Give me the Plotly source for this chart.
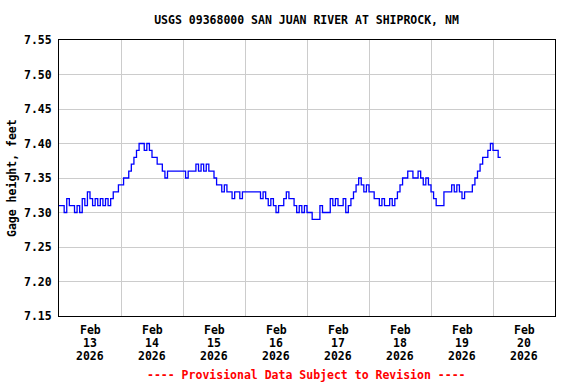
import pandas as pd
import plotly.graph_objects as go

# Gage height readings, hourly from 2026-02-13 00:00 (feet)
gage_height = [
    # Feb 13
    7.31, 7.31, 7.30, 7.32, 7.31, 7.31, 7.30, 7.31, 7.30, 7.32, 7.31, 7.33,
    7.32, 7.31, 7.32, 7.31, 7.32, 7.31, 7.32, 7.31, 7.32, 7.33, 7.33, 7.34,
    # Feb 14
    7.34, 7.35, 7.35, 7.36, 7.37, 7.38, 7.39, 7.40, 7.40, 7.39, 7.40, 7.39,
    7.38, 7.38, 7.37, 7.37, 7.36, 7.35, 7.36, 7.36, 7.36, 7.36, 7.36, 7.36,
    # Feb 15
    7.36, 7.35, 7.36, 7.36, 7.36, 7.37, 7.36, 7.37, 7.36, 7.37, 7.36, 7.36,
    7.35, 7.34, 7.34, 7.33, 7.34, 7.33, 7.33, 7.32, 7.33, 7.33, 7.32, 7.33,
    # Feb 16
    7.33, 7.33, 7.33, 7.33, 7.33, 7.33, 7.32, 7.33, 7.32, 7.31, 7.32, 7.31,
    7.30, 7.31, 7.31, 7.32, 7.33, 7.32, 7.32, 7.31, 7.30, 7.31, 7.30, 7.31,
    # Feb 17
    7.30, 7.30, 7.29, 7.29, 7.29, 7.31, 7.30, 7.30, 7.30, 7.32, 7.31, 7.32,
    7.31, 7.31, 7.32, 7.30, 7.31, 7.32, 7.33, 7.34, 7.35, 7.34, 7.33, 7.34,
    # Feb 18
    7.33, 7.33, 7.32, 7.32, 7.31, 7.32, 7.31, 7.31, 7.32, 7.31, 7.32, 7.33,
    7.34, 7.35, 7.35, 7.36, 7.36, 7.35, 7.35, 7.36, 7.35, 7.34, 7.35, 7.34,
    # Feb 19
    7.33, 7.32, 7.31, 7.31, 7.31, 7.33, 7.33, 7.33, 7.34, 7.33, 7.34, 7.33,
    7.32, 7.33, 7.33, 7.33, 7.34, 7.35, 7.36, 7.37, 7.38, 7.38, 7.39, 7.40,
    # Feb 20
    7.39, 7.39, 7.38, 7.38,
]

day_labels = ["13", "14", "15", "16", "17", "18", "19", "20"]
month_label = "Feb"
year_label = "2026"
y_ticks = [7.15, 7.20, 7.25, 7.30, 7.35, 7.40, 7.45, 7.50, 7.55]

title_text = "USGS 09368000 SAN JUAN RIVER AT SHIPROCK, NM"
y_title = "Gage height, feet"
footer_text = "---- Provisional Data Subject to Revision ----"

start = pd.Timestamp("2026-02-13 00:00")
times = [start + pd.Timedelta(hours=i) for i in range(len(gage_height))]

midnights = [start + pd.Timedelta(days=i) for i in range(len(day_labels) + 1)]
noons = [start + pd.Timedelta(days=i, hours=12) for i in range(len(day_labels))]

FONT = "DejaVu Sans Mono"
FS = 11.5
PLOT_L, PLOT_R, PLOT_T, PLOT_B = 59, 555, 40, 316
PW, PH = PLOT_R - PLOT_L, PLOT_B - PLOT_T


def py(ypix):
    return (PLOT_B - ypix) / PH


def px(xpix):
    return (xpix - PLOT_L) / PW


fig = go.Figure()
fig.add_trace(go.Scatter(
    x=times, y=gage_height, mode="lines",
    line=dict(color="#0000ff", width=1.3, shape="hv"),
    showlegend=False, hoverinfo="x+y",
))

fig.update_layout(
    width=576, height=384,
    margin=dict(l=PLOT_L, r=576 - PLOT_R, t=PLOT_T, b=384 - PLOT_B, autoexpand=False),
    paper_bgcolor="white", plot_bgcolor="white",
    font=dict(family=FONT, size=FS, color="black"),
    title=dict(
        text=f"<b>{title_text}</b>",
        x=306.5 / 576, xanchor="center",
        y=1 - 20 / 384, yanchor="middle",
        font=dict(family=FONT, size=FS, color="black"),
    ),
    xaxis=dict(
        range=[midnights[0], midnights[-1]],
        tickmode="array", tickvals=midnights, showticklabels=False,
        showgrid=True, gridcolor="#cccccc", gridwidth=1,
        ticks="", automargin=False,
        showline=True, linecolor="black", linewidth=1, mirror=True,
        zeroline=False,
    ),
    yaxis=dict(
        range=[7.15, 7.55],
        tickmode="array", tickvals=y_ticks,
        ticktext=[f"<b>{v:.2f}</b>" for v in y_ticks],
        showgrid=True, gridcolor="#cccccc", gridwidth=1,
        ticks="", automargin=False, ticklabelstandoff=4,
        showline=True, linecolor="black", linewidth=1, mirror=True,
        zeroline=False,
        tickfont=dict(family=FONT, size=FS, color="black"),
    ),
)

# Multi-line date labels centred on each day
for t, d in zip(noons, day_labels):
    for txt, ypix in ((month_label, 330), (d, 343), (year_label, 356)):
        fig.add_annotation(
            text=f"<b>{txt}</b>", xref="x", yref="paper",
            x=t, y=py(ypix), xanchor="center", yanchor="middle",
            showarrow=False, font=dict(family=FONT, size=FS, color="black"),
        )

fig.add_annotation(
    text=f"<b>{y_title}</b>", textangle=-90,
    xref="paper", yref="paper",
    x=px(12), y=0.5, xanchor="center", yanchor="middle",
    showarrow=False, font=dict(family=FONT, size=FS, color="black"),
)
fig.add_annotation(
    text=f"<b>{footer_text}</b>",
    xref="paper", yref="paper",
    x=px(306.5), y=py(375),
    xanchor="center", yanchor="middle",
    showarrow=False, font=dict(family=FONT, size=FS, color="red"),
)

fig.write_html(
    "out.html",
    config={"displayModeBar": False},
    post_script="document.body.style.margin='0';document.body.style.overflow='hidden';",
)
